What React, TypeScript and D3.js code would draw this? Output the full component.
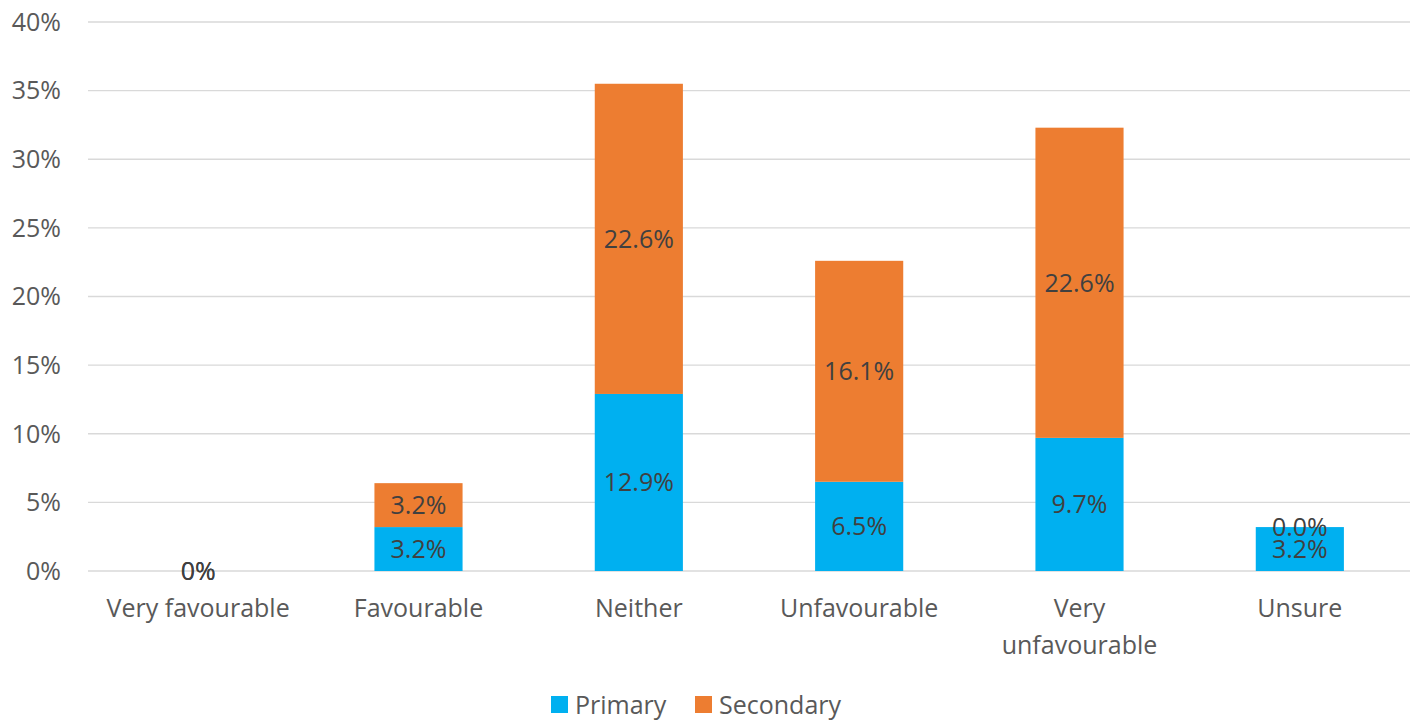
import React from "react";
import * as d3 from "d3";

const categories = ["Very favourable", "Favourable", "Neither", "Unfavourable", "Very unfavourable", "Unsure"];
const categoryLines = [["Very favourable"], ["Favourable"], ["Neither"], ["Unfavourable"], ["Very", "unfavourable"], ["Unsure"]];
const primary = [0, 3.2, 12.9, 6.5, 9.7, 3.2];
const secondary = [0, 3.2, 22.6, 16.1, 22.6, 0];
const primaryLabels = ["0%", "3.2%", "12.9%", "6.5%", "9.7%", "3.2%"];
const secondaryLabels = ["0%", "3.2%", "22.6%", "16.1%", "22.6%", "0.0%"];
const yTicks = [0, 5, 10, 15, 20, 25, 30, 35, 40];
const seriesNames = ["Primary", "Secondary"];
const colors = ["#00B0F0", "#ED7D31"];

export default function App() {
  const W = 1418, H = 720;
  const left = 88, right = 1410, top = 22, bottom = 571;
  const x = d3.scaleBand<string>().domain(categories).range([left, right]).paddingInner(0.6).paddingOuter(0.3);
  const y = d3.scaleLinear().domain([0, 40]).range([bottom, top]);
  const font = "'Open Sans', sans-serif";
  const fs = 25;
  return (
    <svg width={W} height={H} style={{ position: "absolute", left: 0, top: 0, background: "#fff" }} fontFamily={font}>
      {yTicks.map((t) => (
        <g key={t}>
          <line x1={left} x2={right} y1={y(t)} y2={y(t)} stroke="#d9d9d9" strokeWidth={1.3} />
          <text x={61} y={y(t)} dy="0.35em" textAnchor="end" fontSize={fs} fill="#595959">{t}%</text>
        </g>
      ))}
      {categories.map((c, i) => {
        const bx = x(c)!;
        const bw = x.bandwidth();
        const cx = bx + bw / 2;
        const p0 = y(0), p1 = y(primary[i]), s1 = y(primary[i] + secondary[i]);
        return (
          <g key={c}>
            <rect x={bx} y={p1} width={bw} height={p0 - p1} fill={colors[0]} />
            <rect x={bx} y={s1} width={bw} height={p1 - s1} fill={colors[1]} />
            <text x={cx} y={(p0 + p1) / 2} dy="0.35em" textAnchor="middle" fontSize={fs} fill="#404040">{primaryLabels[i]}</text>
            <text x={cx} y={(p1 + s1) / 2} dy="0.35em" textAnchor="middle" fontSize={fs} fill="#404040">{secondaryLabels[i]}</text>
            {categoryLines[i].map((ln, j) => (
              <text key={j} x={cx} y={608 + j * 37} dy="0.35em" textAnchor="middle" fontSize={fs} fill="#595959">{ln}</text>
            ))}
          </g>
        );
      })}
      {seriesNames.map((s, i) => {
        const lx = [551, 695][i];
        return (
          <g key={s}>
            <rect x={lx} y={696} width={17} height={17} fill={colors[i]} />
            <text x={lx + 24} y={705} dy="0.35em" fontSize={fs} fill="#595959">{s}</text>
          </g>
        );
      })}
    </svg>
  );
}
